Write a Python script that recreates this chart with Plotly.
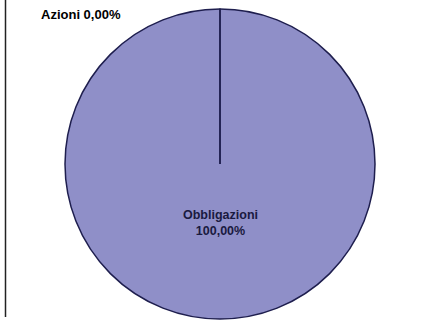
import math
import plotly.graph_objects as go

# ---- data ----
categories = ["Azioni", "Obbligazioni"]
values = [0.0, 100.0]

W, H = 425, 320
fill_color = "#8f8fc8"
edge_color = "#1e1e4e"
font_family = "Liberation Sans, Arial, sans-serif"

# pie geometry (pixels)
cx, cy, r = 220.0, 164.0, 155.0
dom_x = [(cx - r) / W, (cx + r) / W]
dom_y = [1 - (cy + r) / H, 1 - (cy - r) / H]

total = sum(values)
pct = [v / total * 100 for v in values]


def fmt_pct(p):
    return f"{p:.2f}".replace(".", ",") + "%"


def px(x):
    return x / W


def py(y):
    return 1 - y / H


fig = go.Figure(
    go.Pie(
        labels=categories,
        values=values,
        sort=False,
        direction="clockwise",
        rotation=0,
        marker=dict(colors=[fill_color] * len(values),
                    line=dict(color=edge_color, width=1.5)),
        textinfo="none",
        hoverinfo="label+percent",
        domain=dict(x=dom_x, y=dom_y),
        showlegend=False,
    )
)

shapes = []
# slice boundaries from cumulative shares (clockwise from 12 o'clock)
cum = 0.0
for v in values:
    ang = math.radians(90 - 360 * cum / total)
    x1 = cx + r * math.cos(ang)
    y1 = cy - r * math.sin(ang)
    shapes.append(dict(type="line", xref="paper", yref="paper",
                       x0=px(cx), y0=py(cy), x1=px(x1), y1=py(y1),
                       line=dict(color=edge_color, width=1.5)))
    cum += v

# left frame line
shapes.append(dict(type="line", xref="paper", yref="paper",
                   x0=px(5.5), y0=py(0), x1=px(5.5), y1=py(317),
                   line=dict(color="#222222", width=1.5)))

annotations = [
    # outside label for the zero slice
    dict(x=px(cx - 0.9 * r), y=py(cy - 0.962 * r), xref="paper", yref="paper",
         text=f"<b>{categories[0]} {fmt_pct(pct[0])}</b>", showarrow=False,
         xanchor="center", yanchor="middle",
         font=dict(family=font_family, size=13, color="#000000")),
    # inside label for the full slice
    dict(x=px(cx), y=py(cy + 0.38 * r), xref="paper", yref="paper",
         text=f"<b>{categories[1]}<br>{fmt_pct(pct[1])}</b>", showarrow=False,
         xanchor="center", yanchor="middle",
         font=dict(family=font_family, size=12.5, color="#1a1a40")),
]

fig.update_layout(
    width=W, height=H,
    margin=dict(l=0, r=0, t=0, b=0),
    paper_bgcolor="#ffffff",
    plot_bgcolor="#ffffff",
    shapes=shapes,
    annotations=annotations,
    separators=",.",
)

fig.write_html("out.html",
               config={"displayModeBar": False},
               post_script="document.body.style.margin='0';document.body.style.padding='0';")
